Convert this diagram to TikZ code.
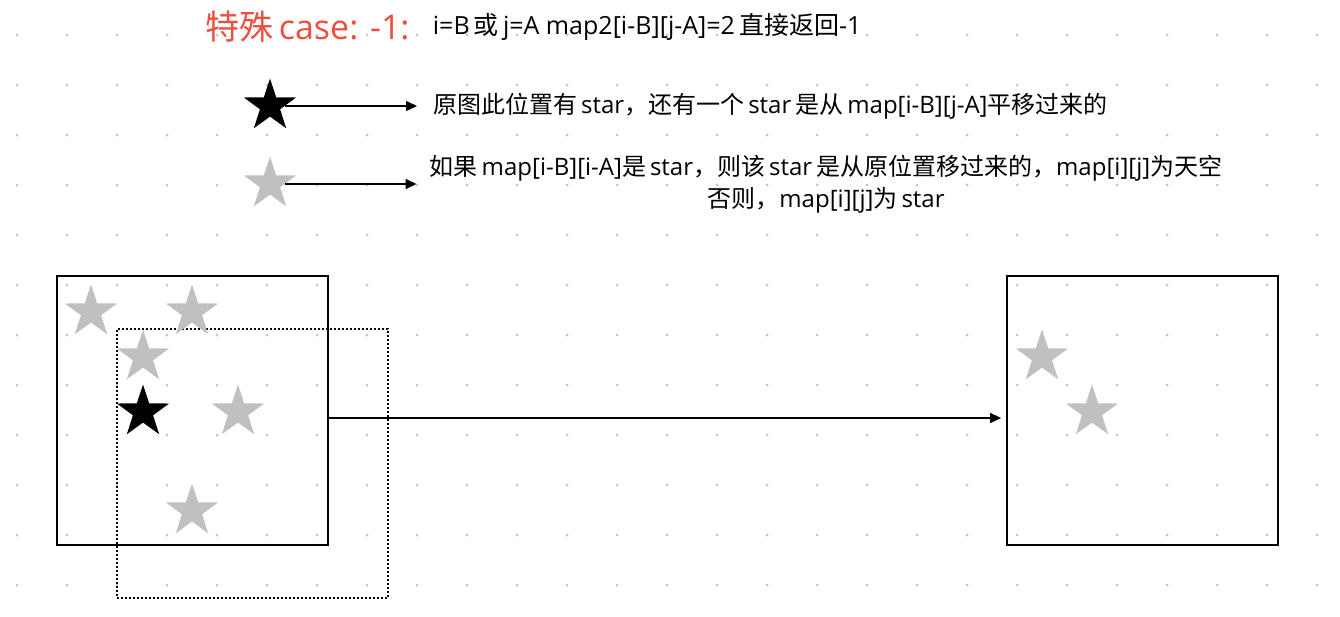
\documentclass[tikz,border=0pt]{standalone}
\usepackage{fontspec}
\setmainfont{Open Sans}
\newfontfamily\zhfont{Noto Sans CJK SC}
\newcommand{\zh}[1]{{\zhfont #1}}
\usepackage{tikz}
\usetikzlibrary{shapes.geometric,arrows.meta,positioning}
\definecolor{titlered}{RGB}{233,80,63}
\definecolor{stargray}{RGB}{192,192,192}
\definecolor{dotgray}{RGB}{195,195,195}

\begin{document}
\begin{tikzpicture}[
    x=1pt, y=-1pt,
    box/.style={draw, line width=1.8pt, minimum width=271pt, minimum height=269pt, inner sep=0pt},
    shiftbox/.style={box, line width=1.8pt, dash pattern=on 1.8pt off 2.2pt},
    bigstar/.style={star, star points=5, star point ratio=2.6, minimum size=55pt, inner sep=0pt, draw=none, fill=stargray},
    arrow/.style={-{Triangle[length=11pt,width=10pt]}, line width=1.5pt},
    note/.style={inner sep=0pt, font=\fontsize{24}{32}\selectfont, align=center}
]
  \useasboundingbox (0,0) rectangle (1340,616);

  % dotted canvas
  \foreach \i in {0,...,26}
    \foreach \j in {0,...,11}
      \fill[dotgray] (17+50*\i, 35+50*\j) circle (1.5pt);

  % Title
  \node[inner sep=0pt, anchor=west, text=titlered, font=\fontsize{34}{38}\selectfont] (title) at (205,27)
    {\zh{特殊}\,case: -1:};
  \node[inner sep=0pt, right=23pt of title, font=\fontsize{25}{28}\selectfont] (rule)
    {i=B\,\zh{或}\,j=A map2[i-B][j-A]=2\,\zh{直接返回}-1};

  % Legend
  \node[bigstar, fill=black] (kblack) at (270,106) {};
  \node[bigstar] (kgray) at (270,184) {};
  \node[note, anchor=west] (note1) at (433,106)
    {\zh{原图此位置有}\,star\zh{，还有一个}\,star\,\zh{是从}\,map[i-B][j-A]\zh{平移过来的}};
  \node[note] (note2) at (826,184)
    {\zh{如果}\,map[i-B][i-A]\zh{是}\,star\zh{，则该}\,star\,\zh{是从原位置移过来的，}map[i][j]\zh{为天空}\\
     \zh{否则，}map[i][j]\zh{为}\,star};
  \draw[arrow, shorten >=16pt] (kblack) -- (note1);
  \draw[arrow, shorten >=13pt] (kgray) -- (note2.west |- kgray);

  % Original map and shifted map
  \node[box] (lbox) at (192.5,410.5) {};
  \node[shiftbox] (sbox) at (252.5,463.5) {};
  \node[box] (rbox) at (1142.5,410.5) {};

  \node[bigstar] (s1) at (91,312) {};
  \node[bigstar] (s2) at (192,312) {};
  \node[bigstar] (s3) at (143,357) {};
  \node[bigstar, fill=black] (s4) at (143,412) {};
  \node[bigstar] (s5) at (238,412) {};
  \node[bigstar] (s6) at (192,511) {};

  \node[bigstar] (r1) at (1042,357) {};
  \node[bigstar] (r2) at (1092,412) {};

  \draw[arrow, shorten >=5pt] ([yshift=-7.5pt]lbox.east) -- ([yshift=-7.5pt]rbox.west);

\end{tikzpicture}
\end{document}
